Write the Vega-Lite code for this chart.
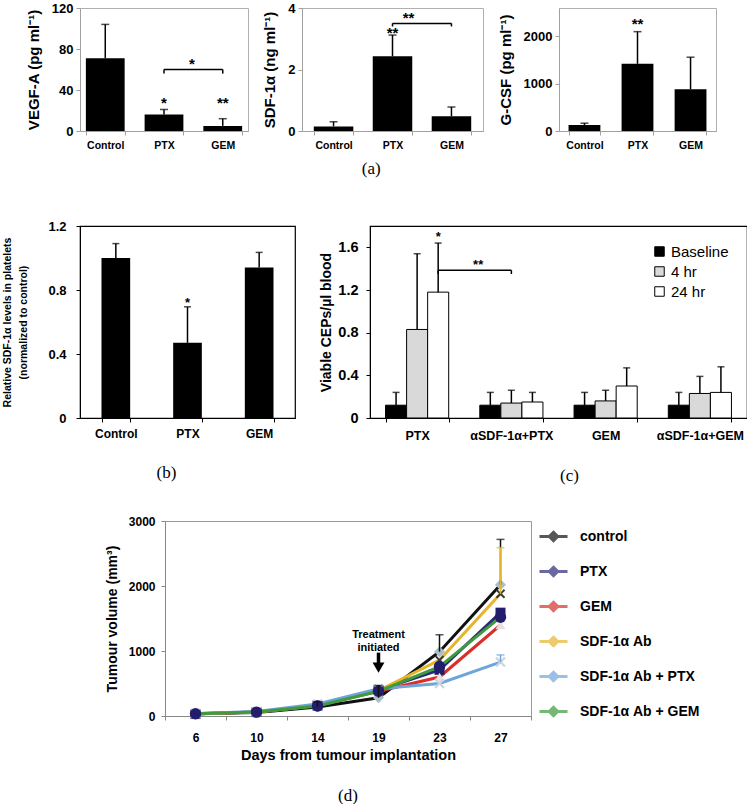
{
  "$schema": "https://vega.github.io/schema/vega-lite/v6.json",
  "background": "white",
  "padding": {"left": 2, "right": 0, "top": 1, "bottom": 0},
  "config": {
    "font": "Liberation Sans",
    "view": {"stroke": null},
    "axis": {"labelFont": "Liberation Sans", "titleFont": "Liberation Sans", "labelFontWeight": "bold", "titleFontWeight": "bold", "labelColor": "#000", "titleColor": "#000", "grid": false, "domainColor": "#000", "tickColor": "#000", "labelOverlap": false},
    "axisY": {"labelOverlap": false, "labelFlush": false},
    "title": {"font": "Liberation Serif", "fontWeight": "normal", "fontSize": 17, "color": "#000"},
    "legend": {"labelFont": "Liberation Sans", "labelColor": "#000"}
  },
  "resolve": {"scale": {"color": "independent", "fill": "independent", "shape": "independent"}, "legend": {"color": "independent", "fill": "independent", "shape": "independent"}},
  "spacing": 29,
  "vconcat": [
    {
      "spacing": 42,
      "resolve": {"scale": {"fill": "independent"}, "legend": {"fill": "independent"}},
      "vconcat": [
        {
          "hconcat": [
            {
              "width": 168, "height": 123,
              "view": {"stroke": "#b0b0b0"},
              "data": {"values": [
                {"g": "Control", "v": 71, "e": 104},
                {"g": "PTX", "v": 16, "e": 21, "sig": "*", "sy": 27},
                {"g": "GEM", "v": 5, "e": 12, "sig": "**", "sy": 27}
              ]},
              "encoding": {
                "x": {"field": "g", "type": "nominal", "scale": {"domain": ["Control", "PTX", "GEM"], "paddingInner": 0.34, "paddingOuter": 0.1},
                  "axis": {"title": null, "labelAngle": 0, "labelFontSize": 10.5, "tickBand": "extent", "tickSize": 4, "labelPadding": 5, "domainColor": "#a0a0a0", "tickColor": "#a0a0a0"}}
              },
              "layer": [
                {"mark": {"type": "bar", "color": "#000"},
                  "encoding": {"y": {"field": "v", "type": "quantitative", "scale": {"domain": [0, 120]},
                    "axis": {"title": "VEGF-A (pg ml⁻¹)", "values": [0, 20, 40, 60, 80, 100, 120], "tickCount": 6, "labelOverlap": false, "format": "~r", "labelFontSize": 13, "labelPadding": 3, "tickSize": 4, "titleFontSize": 15, "titlePadding": 10, "domainColor": "#a0a0a0", "tickColor": "#a0a0a0"}}}},
                {"mark": {"type": "rule", "color": "#000", "strokeWidth": 1.5},
                  "encoding": {"y": {"field": "v", "type": "quantitative"}, "y2": {"field": "e"}}},
                {"mark": {"type": "tick", "color": "#000", "thickness": 1.5, "size": 8},
                  "encoding": {"y": {"field": "e", "type": "quantitative"}}},
                {"transform": [{"filter": "datum.sig"}],
                  "mark": {"type": "text", "fontSize": 15, "fontWeight": "bold", "baseline": "middle"},
                  "encoding": {"y": {"field": "sy", "type": "quantitative"}, "text": {"field": "sig"}}},
                {"data": {"values": [{"g": "PTX", "g2": "GEM", "y": 60, "y0": 56, "lab": "*", "ly": 65}]},
                  "layer": [
                    {"mark": {"type": "rule", "color": "#000", "strokeWidth": 1.5},
                      "encoding": {"x": {"field": "g", "type": "nominal"}, "x2": {"field": "g2"}, "y": {"field": "y", "type": "quantitative"}}},
                    {"mark": {"type": "rule", "color": "#000", "strokeWidth": 1.5},
                      "encoding": {"x": {"field": "g", "type": "nominal"}, "y": {"field": "y0", "type": "quantitative"}, "y2": {"field": "y"}}},
                    {"mark": {"type": "rule", "color": "#000", "strokeWidth": 1.5},
                      "encoding": {"x": {"field": "g2", "type": "nominal"}, "y": {"field": "y0", "type": "quantitative"}, "y2": {"field": "y"}}},
                    {"mark": {"type": "text", "fontSize": 15, "fontWeight": "bold", "baseline": "middle", "dx": 28},
                      "encoding": {"x": {"field": "g", "type": "nominal"}, "y": {"field": "ly", "type": "quantitative"}, "text": {"field": "lab"}}}
                  ]}
              ]
            },
            {
              "width": 181, "height": 123,
              "view": {"stroke": "#b0b0b0"},
              "data": {"values": [
                {"g": "Control", "v": 0.15, "e": 0.3},
                {"g": "PTX", "v": 2.43, "e": 3.12, "sig": "**", "sy": 3.2},
                {"g": "GEM", "v": 0.48, "e": 0.78}
              ]},
              "encoding": {
                "x": {"field": "g", "type": "nominal", "scale": {"domain": ["Control", "PTX", "GEM"], "paddingInner": 0.33, "paddingOuter": 0.2},
                  "axis": {"title": null, "labelAngle": 0, "labelFontSize": 10.5, "tickBand": "extent", "tickSize": 4, "labelPadding": 5, "domainColor": "#a0a0a0", "tickColor": "#a0a0a0"}}
              },
              "layer": [
                {"mark": {"type": "bar", "color": "#000"},
                  "encoding": {"y": {"field": "v", "type": "quantitative", "scale": {"domain": [0, 4]},
                    "axis": {"title": "SDF-1α (ng ml⁻¹)", "values": [0, 1, 2, 3, 4], "tickCount": 4, "labelOverlap": false, "format": "~r", "labelFontSize": 13, "labelPadding": 3, "tickSize": 4, "titleFontSize": 15, "titlePadding": 10, "domainColor": "#a0a0a0", "tickColor": "#a0a0a0"}}}},
                {"mark": {"type": "rule", "color": "#000", "strokeWidth": 1.5},
                  "encoding": {"y": {"field": "v", "type": "quantitative"}, "y2": {"field": "e"}}},
                {"mark": {"type": "tick", "color": "#000", "thickness": 1.5, "size": 8},
                  "encoding": {"y": {"field": "e", "type": "quantitative"}}},
                {"transform": [{"filter": "datum.sig"}],
                  "mark": {"type": "text", "fontSize": 15, "fontWeight": "bold", "baseline": "middle"},
                  "encoding": {"y": {"field": "sy", "type": "quantitative"}, "text": {"field": "sig"}}},
                {"data": {"values": [{"g": "PTX", "g2": "GEM", "y": 3.5, "y0": 3.4, "lab": "**", "ly": 3.68}]},
                  "layer": [
                    {"mark": {"type": "rule", "color": "#000", "strokeWidth": 1.5},
                      "encoding": {"x": {"field": "g", "type": "nominal"}, "x2": {"field": "g2"}, "y": {"field": "y", "type": "quantitative"}}},
                    {"mark": {"type": "rule", "color": "#000", "strokeWidth": 1.5},
                      "encoding": {"x": {"field": "g", "type": "nominal"}, "y": {"field": "y0", "type": "quantitative"}, "y2": {"field": "y"}}},
                    {"mark": {"type": "rule", "color": "#000", "strokeWidth": 1.5},
                      "encoding": {"x": {"field": "g2", "type": "nominal"}, "y": {"field": "y0", "type": "quantitative"}, "y2": {"field": "y"}}},
                    {"mark": {"type": "text", "fontSize": 15, "fontWeight": "bold", "baseline": "middle", "dx": 16},
                      "encoding": {"x": {"field": "g", "type": "nominal"}, "y": {"field": "ly", "type": "quantitative"}, "text": {"field": "lab"}}}
                  ]}
              ]
            },
            {
              "width": 157, "height": 123,
              "view": {"stroke": "#b0b0b0"},
              "data": {"values": [
                {"g": "Control", "v": 125, "e": 165},
                {"g": "PTX", "v": 1420, "e": 2100, "sig": "**", "sy": 2260},
                {"g": "GEM", "v": 880, "e": 1560}
              ]},
              "encoding": {
                "x": {"field": "g", "type": "nominal", "scale": {"domain": ["Control", "PTX", "GEM"], "paddingInner": 0.4, "paddingOuter": 0.18},
                  "axis": {"title": null, "labelAngle": 0, "labelFontSize": 10.5, "tickBand": "extent", "tickSize": 4, "labelPadding": 5, "domainColor": "#a0a0a0", "tickColor": "#a0a0a0"}}
              },
              "layer": [
                {"mark": {"type": "bar", "color": "#000"},
                  "encoding": {"y": {"field": "v", "type": "quantitative", "scale": {"domain": [0, 2500]},
                    "axis": {"title": "G-CSF (pg ml⁻¹)", "values": [0, 500, 1000, 1500, 2000, 2500], "tickCount": 5, "labelOverlap": false, "format": "~r", "labelFontSize": 13, "labelPadding": 3, "tickSize": 4, "titleFontSize": 15, "titlePadding": 10, "domainColor": "#a0a0a0", "tickColor": "#a0a0a0"}}}},
                {"mark": {"type": "rule", "color": "#000", "strokeWidth": 1.5},
                  "encoding": {"y": {"field": "v", "type": "quantitative"}, "y2": {"field": "e"}}},
                {"mark": {"type": "tick", "color": "#000", "thickness": 1.5, "size": 8},
                  "encoding": {"y": {"field": "e", "type": "quantitative"}}},
                {"transform": [{"filter": "datum.sig"}],
                  "mark": {"type": "text", "fontSize": 15, "fontWeight": "bold", "baseline": "middle"},
                  "encoding": {"y": {"field": "sy", "type": "quantitative"}, "text": {"field": "sig"}}}
              ]
            }
          ],
          "spacing": 13,
          "title": {"text": "(a)", "orient": "bottom", "anchor": "middle", "offset": 10}
        },
        {
          "hconcat": [
            {
              "width": 215, "height": 192,
              "view": {"stroke": "#000", "strokeWidth": 1.2},
              "title": {"text": "(b)", "orient": "bottom", "anchor": "middle", "frame": "group", "offset": 26, "dx": -21},
              "data": {"values": [
                {"g": "Control", "v": 1.0, "e": 1.09},
                {"g": "PTX", "v": 0.47, "e": 0.695, "sig": "*", "sy": 0.72},
                {"g": "GEM", "v": 0.94, "e": 1.035}
              ]},
              "encoding": {
                "x": {"field": "g", "type": "nominal", "scale": {"domain": ["Control", "PTX", "GEM"], "paddingInner": 0.6, "paddingOuter": 0.3},
                  "axis": {"title": null, "labelAngle": 0, "labelFontSize": 12, "tickBand": "extent", "tickSize": 4, "labelPadding": 6}}
              },
              "layer": [
                {"mark": {"type": "bar", "color": "#000"},
                  "encoding": {"y": {"field": "v", "type": "quantitative", "scale": {"domain": [0, 1.2]},
                    "axis": {"title": ["Relative SDF-1α levels in platelets", "(normalized to control)"], "values": [0, 0.2, 0.4, 0.6, 0.8, 1, 1.2], "tickCount": 6, "labelOverlap": false, "format": "~r", "labelFontSize": 13, "labelPadding": 10, "tickSize": 4, "titleFontSize": 10.5, "titleLineHeight": 16, "titlePadding": 19}}}},
                {"mark": {"type": "rule", "color": "#000", "strokeWidth": 1.5},
                  "encoding": {"y": {"field": "v", "type": "quantitative"}, "y2": {"field": "e"}}},
                {"mark": {"type": "tick", "color": "#000", "thickness": 1.5, "size": 7},
                  "encoding": {"y": {"field": "e", "type": "quantitative"}}},
                {"transform": [{"filter": "datum.sig"}],
                  "mark": {"type": "text", "fontSize": 13, "fontWeight": "bold", "baseline": "middle"},
                  "encoding": {"y": {"field": "sy", "type": "quantitative"}, "text": {"field": "sig"}}}
              ]
            },
            {
              "width": 377, "height": 192,
              "view": {"stroke": "#000", "strokeWidth": 1.2},
              "title": {"text": "(c)", "orient": "bottom", "anchor": "middle", "frame": "group", "offset": 26, "dx": 11},
              "data": {"values": [
                {"g": "PTX", "t": "Baseline", "v": 0.12, "e": 0.24},
                {"g": "PTX", "t": "4 hr", "v": 0.83, "e": 1.54},
                {"g": "PTX", "t": "24 hr", "v": 1.18, "e": 1.64, "sig": "*", "sy": 1.7},
                {"g": "αSDF-1α+PTX", "t": "Baseline", "v": 0.12, "e": 0.24},
                {"g": "αSDF-1α+PTX", "t": "4 hr", "v": 0.14, "e": 0.26},
                {"g": "αSDF-1α+PTX", "t": "24 hr", "v": 0.15, "e": 0.24},
                {"g": "GEM", "t": "Baseline", "v": 0.12, "e": 0.24},
                {"g": "GEM", "t": "4 hr", "v": 0.16, "e": 0.26},
                {"g": "GEM", "t": "24 hr", "v": 0.3, "e": 0.47},
                {"g": "αSDF-1α+GEM", "t": "Baseline", "v": 0.12, "e": 0.24},
                {"g": "αSDF-1α+GEM", "t": "4 hr", "v": 0.23, "e": 0.39},
                {"g": "αSDF-1α+GEM", "t": "24 hr", "v": 0.24, "e": 0.48}
              ]},
              "encoding": {
                "x": {"field": "g", "type": "nominal", "scale": {"domain": ["PTX", "αSDF-1α+PTX", "GEM", "αSDF-1α+GEM"], "paddingInner": 0.33, "paddingOuter": 0.165},
                  "axis": {"title": null, "labelAngle": 0, "labelFontSize": 12.5, "tickBand": "extent", "tickSize": 4, "labelPadding": 7}},
                "xOffset": {"field": "t", "type": "nominal", "scale": {"domain": ["Baseline", "4 hr", "24 hr"], "paddingInner": 0, "paddingOuter": 0}}
              },
              "layer": [
                {"mark": {"type": "bar", "stroke": "#000", "strokeWidth": 1},
                  "encoding": {
                    "y": {"field": "v", "type": "quantitative", "scale": {"domain": [0, 1.8]},
                      "axis": {"title": "Viable CEPs/µl blood", "values": [0, 0.2, 0.4, 0.6, 0.8, 1, 1.2, 1.4, 1.6, 1.8], "tickCount": 9, "labelOverlap": false, "format": "~r", "labelFontSize": 14.5, "labelPadding": 8, "tickSize": 4, "titleFontSize": 14, "titlePadding": 4}},
                    "fill": {"field": "t", "type": "nominal", "scale": {"domain": ["Baseline", "4 hr", "24 hr"], "range": ["#000000", "#d9d9d9", "#ffffff"]},
                      "legend": {"title": null, "orient": "top-right", "offset": 18, "symbolType": "square", "symbolSize": 90, "symbolStrokeColor": "#000", "symbolStrokeWidth": 1, "labelFontSize": 15, "labelOffset": 4, "rowPadding": 4}}
                  }},
                {"mark": {"type": "rule", "color": "#000", "strokeWidth": 1.5},
                  "encoding": {"y": {"field": "v", "type": "quantitative"}, "y2": {"field": "e"}}},
                {"mark": {"type": "tick", "color": "#000", "thickness": 1.5, "size": 7},
                  "encoding": {"y": {"field": "e", "type": "quantitative"}}},
                {"transform": [{"filter": "datum.sig"}],
                  "mark": {"type": "text", "fontSize": 13, "fontWeight": "bold", "baseline": "middle"},
                  "encoding": {"y": {"field": "sy", "type": "quantitative"}, "text": {"field": "sig"}}},
                {"data": {"values": [{"g": "PTX", "g2": "αSDF-1α+PTX", "t": "24 hr", "t2": "4 hr", "y": 1.385, "y0": 1.35, "lab": "**", "ly": 1.43}]},
                  "layer": [
                    {"mark": {"type": "rule", "color": "#000", "strokeWidth": 1.5},
                      "encoding": {"x": {"field": "g", "type": "nominal"}, "x2": {"field": "g2"}, "y": {"field": "y", "type": "quantitative"}}},
                    {"mark": {"type": "rule", "color": "#000", "strokeWidth": 1.5},
                      "encoding": {"x": {"field": "g", "type": "nominal"}, "y": {"field": "y0", "type": "quantitative"}, "y2": {"field": "y"}}},
                    {"mark": {"type": "rule", "color": "#000", "strokeWidth": 1.5},
                      "encoding": {"x": {"field": "g2", "type": "nominal"}, "xOffset": {"field": "t2", "type": "nominal"}, "y": {"field": "y0", "type": "quantitative"}, "y2": {"field": "y"}}},
                    {"mark": {"type": "text", "fontSize": 13, "fontWeight": "bold", "baseline": "middle", "dx": 40},
                      "encoding": {"x": {"field": "g", "type": "nominal"}, "y": {"field": "ly", "type": "quantitative"}, "text": {"field": "lab"}}}
                  ]}
              ]
            }
          ],
          "bounds": "flush",
          "spacing": 75,
          "resolve": {"scale": {"fill": "independent"}, "legend": {"fill": "independent"}}
        }
      ]
    },
    {
      "hconcat": [
        {"width": 24, "height": 10, "view": {"stroke": null}, "data": {"values": []}, "mark": "point"},
        {
          "width": 366, "height": 195,
          "view": {"stroke": "#999999"},
          "title": {"text": "(d)", "orient": "bottom", "anchor": "middle", "frame": "group", "offset": 26},
          "encoding": {
            "x": {"field": "day", "type": "ordinal", "bandPosition": 0.5,
              "scale": {"type": "band", "domain": [6, 10, 14, 19, 23, 27], "paddingInner": 0, "paddingOuter": 0},
              "axis": {"title": "Days from tumour implantation", "labelAngle": 0, "labelFontSize": 12, "tickBand": "extent", "tickSize": 4, "labelPadding": 12, "titleFontSize": 14.5, "titlePadding": 5, "domainColor": "#888", "tickColor": "#888"}}
          },
          "layer": [
            {"data": {"values": [
              {"s": "control", "day": 6, "v": 35}, {"s": "control", "day": 10, "v": 55}, {"s": "control", "day": 14, "v": 140}, {"s": "control", "day": 19, "v": 280}, {"s": "control", "day": 23, "v": 990}, {"s": "control", "day": 27, "v": 2020},
              {"s": "PTX", "day": 6, "v": 30}, {"s": "PTX", "day": 10, "v": 60}, {"s": "PTX", "day": 14, "v": 160}, {"s": "PTX", "day": 19, "v": 400}, {"s": "PTX", "day": 23, "v": 710}, {"s": "PTX", "day": 27, "v": 1590},
              {"s": "GEM", "day": 6, "v": 35}, {"s": "GEM", "day": 10, "v": 60}, {"s": "GEM", "day": 14, "v": 160}, {"s": "GEM", "day": 19, "v": 380}, {"s": "GEM", "day": 23, "v": 600}, {"s": "GEM", "day": 27, "v": 1400},
              {"s": "SDF-1α Ab", "day": 6, "v": 35}, {"s": "SDF-1α Ab", "day": 10, "v": 60}, {"s": "SDF-1α Ab", "day": 14, "v": 160}, {"s": "SDF-1α Ab", "day": 19, "v": 390}, {"s": "SDF-1α Ab", "day": 23, "v": 860}, {"s": "SDF-1α Ab", "day": 27, "v": 1880},
              {"s": "SDF-1α Ab + PTX", "day": 6, "v": 40}, {"s": "SDF-1α Ab + PTX", "day": 10, "v": 70}, {"s": "SDF-1α Ab + PTX", "day": 14, "v": 185}, {"s": "SDF-1α Ab + PTX", "day": 19, "v": 420}, {"s": "SDF-1α Ab + PTX", "day": 23, "v": 500}, {"s": "SDF-1α Ab + PTX", "day": 27, "v": 830},
              {"s": "SDF-1α Ab + GEM", "day": 6, "v": 35}, {"s": "SDF-1α Ab + GEM", "day": 10, "v": 60}, {"s": "SDF-1α Ab + GEM", "day": 14, "v": 155}, {"s": "SDF-1α Ab + GEM", "day": 19, "v": 380}, {"s": "SDF-1α Ab + GEM", "day": 23, "v": 760}, {"s": "SDF-1α Ab + GEM", "day": 27, "v": 1520}
            ]},
              "layer": [
                {"mark": {"type": "line", "strokeWidth": 3},
                  "encoding": {
                    "y": {"field": "v", "type": "quantitative", "scale": {"domain": [0, 3000]},
                      "axis": {"title": "Tumour volume (mm³)", "values": [0, 500, 1000, 1500, 2000, 2500, 3000], "tickCount": 6, "labelOverlap": false, "format": "~r", "labelFontSize": 12, "labelPadding": 6, "tickSize": 4, "titleFontSize": 14, "titlePadding": 9, "domainColor": "#888", "tickColor": "#888"}},
                    "color": {"field": "s", "type": "nominal",
                      "scale": {"domain": ["control", "PTX", "GEM", "SDF-1α Ab", "SDF-1α Ab + PTX", "SDF-1α Ab + GEM"], "range": ["#111111", "#2b2a78", "#d7302a", "#e6b52e", "#6ea6dc", "#3e9a3c"]},
                      "legend": {"title": null, "orient": "right", "offset": 7, "padding": 0, "symbolType": "M-1,0H1M0,-0.3L0.3,0L0,0.3L-0.3,0Z", "symbolSize": 784, "symbolStrokeWidth": 3, "symbolOpacity": 1, "labelFontSize": 14, "labelFontWeight": "bold", "labelOffset": 11, "rowPadding": 9}},
                    "detail": {"field": "s"}
                  }},
                {"transform": [{"filter": "datum.s === 'control'"}],
                  "mark": {"type": "point", "shape": "diamond", "filled": true, "color": "#a9c0c8", "size": 120, "opacity": 1},
                  "encoding": {"y": {"field": "v", "type": "quantitative"}}},
                {"transform": [{"filter": "datum.s === 'PTX'"}],
                  "mark": {"type": "point", "shape": "square", "filled": true, "color": "#231e6b", "size": 100, "opacity": 1},
                  "encoding": {"y": {"field": "v", "type": "quantitative"}}},
                {"transform": [{"filter": "datum.s === 'GEM'"}],
                  "mark": {"type": "point", "shape": "triangle-up", "filled": true, "color": "#e9dfe0", "size": 100, "opacity": 1},
                  "encoding": {"y": {"field": "v", "type": "quantitative"}}},
                {"transform": [{"filter": "datum.s === 'SDF-1α Ab'"}],
                  "mark": {"type": "point", "shape": "M-1,-0.7L-0.7,-1L0,-0.3L0.7,-1L1,-0.7L0.3,0L1,0.7L0.7,1L0,0.3L-0.7,1L-1,0.7L-0.3,0Z", "filled": true, "color": "#3a3a3a", "size": 90, "opacity": 1},
                  "encoding": {"y": {"field": "v", "type": "quantitative"}}},
                {"transform": [{"filter": "datum.s === 'SDF-1α Ab + PTX'"}],
                  "mark": {"type": "point", "shape": "M-1,-0.7L-0.7,-1L0,-0.3L0.7,-1L1,-0.7L0.3,0L1,0.7L0.7,1L0,0.3L-0.7,1L-1,0.7L-0.3,0Z", "filled": true, "color": "#c9d6e0", "size": 110, "opacity": 1},
                  "encoding": {"y": {"field": "v", "type": "quantitative"}}},
                {"transform": [{"filter": "datum.s === 'SDF-1α Ab + GEM'"}],
                  "mark": {"type": "point", "shape": "circle", "filled": true, "color": "#231e6b", "size": 130, "opacity": 1},
                  "encoding": {"y": {"field": "v", "type": "quantitative"}}}
              ]},
            {"data": {"values": [
              {"s": "control", "day": 14, "v": 140, "e": 220},
              {"s": "control", "day": 19, "v": 280, "e": 470},
              {"s": "control", "day": 23, "v": 990, "e": 1250},
              {"s": "control", "day": 27, "v": 2020, "e": 2717},
              {"s": "SDF-1α Ab", "day": 27, "v": 1880, "e": 2590},
              {"s": "SDF-1α Ab + PTX", "day": 27, "v": 830, "e": 940}
            ]},
              "layer": [
                {"mark": {"type": "rule", "strokeWidth": 1.5},
                  "encoding": {"y": {"field": "v", "type": "quantitative"}, "y2": {"field": "e"}, "color": {"field": "s", "type": "nominal"}}},
                {"mark": {"type": "tick", "thickness": 1.5, "size": 8},
                  "encoding": {"y": {"field": "e", "type": "quantitative"}, "color": {"field": "s", "type": "nominal"}}}
              ]},
            {"data": {"values": [{"day": 19, "label": "Treatment\ninitiated", "ty": 1240, "a1": 975, "a2": 790, "tip": 745}]},
              "layer": [
                {"mark": {"type": "text", "fontSize": 11, "fontWeight": "bold", "lineBreak": "\n", "lineHeight": 13, "baseline": "middle"},
                  "encoding": {"y": {"field": "ty", "type": "quantitative"}, "text": {"field": "label"}}},
                {"mark": {"type": "rule", "color": "#000", "strokeWidth": 3.5},
                  "encoding": {"y": {"field": "a1", "type": "quantitative"}, "y2": {"field": "a2"}}},
                {"mark": {"type": "point", "shape": "triangle-down", "filled": true, "color": "#000", "size": 140, "opacity": 1},
                  "encoding": {"y": {"field": "tip", "type": "quantitative"}}}
              ]}
          ]
        }
      ],
      "spacing": 0,
      "resolve": {"scale": {"color": "independent", "fill": "independent", "shape": "independent"}, "legend": {"color": "independent", "fill": "independent", "shape": "independent"}}
    }
  ]
}
